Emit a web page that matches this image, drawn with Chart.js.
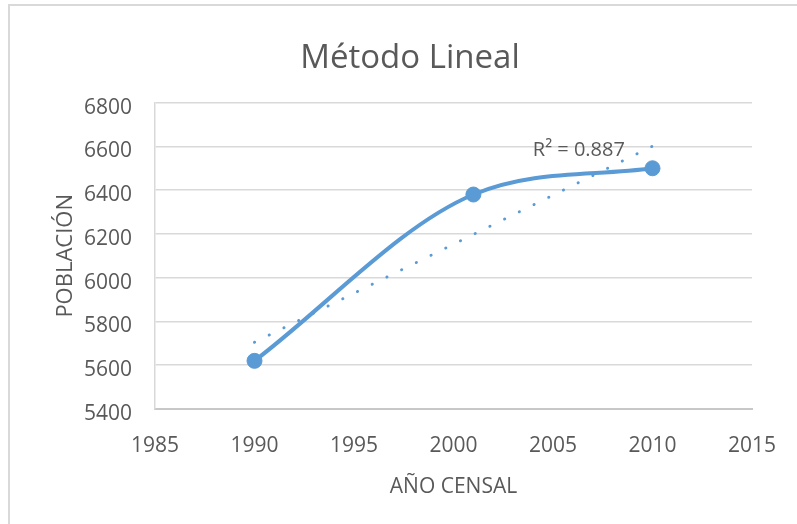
<!DOCTYPE html>
<html>
<head>
<meta charset="utf-8">
<script src="https://cdn.jsdelivr.net/npm/chart.js@4/dist/chart.umd.min.js"></script>
<style>
  html, body { margin: 0; padding: 0; background: #ffffff; }
  #wrap { width: 797px; height: 524px; }
</style>
</head>
<body>
<div id="wrap"><canvas id="c" width="797" height="524"></canvas></div>
<script>
// ---- data ----
const years = [1990, 2001, 2010];
const population = [5620, 6380, 6500];
const trendYears = [1990, 2010];
const trendValues = [5705, 6601];
const trendLabel = 'R² = 0.887';
const trendLabelAt = [2006.3, 6582];
const chartTitle = 'Método Lineal';
const xTitle = 'AÑO CENSAL';
const yTitle = 'POBLACIÓN';
const xMin = 1985, xMax = 2015, xStep = 5;
const yMin = 5400, yMax = 6800, yStep = 200;

const FONT = "'Open Sans', 'Liberation Sans', sans-serif";
const TEXT = '#595959';
const BLUE = '#5b9bd5';

const frameAndLabels = {
  id: 'frameAndLabels',
  beforeDraw(chart) {
    const ctx = chart.ctx;
    ctx.save();
    ctx.fillStyle = '#ffffff';
    ctx.fillRect(0, 0, chart.width, chart.height);
    ctx.strokeStyle = '#d9d9d9';
    ctx.lineWidth = 2;
    ctx.strokeRect(9, 5, chart.width + 20, chart.height + 20);
    ctx.restore();
  },
  afterDatasetsDraw(chart) {
    const ctx = chart.ctx;
    const xs = chart.scales.x, ys = chart.scales.y;
    ctx.save();
    ctx.fillStyle = TEXT;
    ctx.font = '20px ' + FONT;
    ctx.textAlign = 'center';
    ctx.textBaseline = 'middle';
    ctx.fillText(trendLabel, xs.getPixelForValue(trendLabelAt[0]), ys.getPixelForValue(trendLabelAt[1]));
    ctx.restore();
  }
};

new Chart(document.getElementById('c'), {
  type: 'line',
  data: {
    datasets: [
      {
        label: 'Población',
        data: years.map((y, i) => ({ x: y, y: population[i] })),
        borderColor: BLUE,
        backgroundColor: BLUE,
        borderWidth: 4,
        pointRadius: 7.5,
        pointBackgroundColor: BLUE,
        pointBorderColor: BLUE,
        pointBorderWidth: 1,
        cubicInterpolationMode: 'monotone',
        tension: 0.4,
        fill: false
      },
      {
        label: 'Lineal',
        data: trendYears.map((y, i) => ({ x: y, y: trendValues[i] })),
        borderColor: BLUE,
        borderWidth: 3,
        borderDash: [0.1, 16.3],
        borderCapStyle: 'round',
        pointRadius: 0,
        tension: 0,
        fill: false
      }
    ]
  },
  options: {
    responsive: false,
    animation: false,
    layout: { padding: { left: 23, right: 0, top: 0, bottom: 0 } },
    plugins: {
      legend: { display: false },
      tooltip: { enabled: false },
      title: {
        display: true,
        text: chartTitle,
        color: TEXT,
        font: { family: FONT, size: 33, weight: 'normal' },
        padding: { top: 39, bottom: 24 }
      }
    },
    scales: {
      x: {
        type: 'linear',
        min: xMin, max: xMax,
        afterBuildTicks(scale) {
          const t = [];
          for (let v = xMin; v <= xMax; v += xStep) t.push({ value: v });
          scale.ticks = t;
        },
        ticks: {
          color: TEXT,
          font: { family: FONT, size: 21 },
          padding: 24,
          maxRotation: 0,
          callback: v => String(v)
        },
        grid: { display: false, drawTicks: false },
        border: { display: true, color: '#c8c8c8', width: 2 },
        title: {
          display: true,
          text: xTitle,
          color: TEXT,
          font: { family: FONT, size: 21 },
          padding: { top: 0, bottom: 24 }
        },
        afterFit(scale) {
          scale.height = 115;
          scale.paddingRight = 45;
        }
      },
      y: {
        min: yMin, max: yMax,
        afterBuildTicks(scale) {
          const t = [];
          for (let v = yMin; v <= yMax; v += yStep) t.push({ value: v });
          scale.ticks = t;
        },
        ticks: {
          color: TEXT,
          font: { family: FONT, size: 21 },
          padding: 23,
          labelOffset: 5,
          callback: v => String(v)
        },
        grid: { color: '#d9d9d9', lineWidth: 1.5, drawTicks: false },
        border: { display: true, color: '#d9d9d9', width: 1.5 },
        title: {
          display: true,
          text: yTitle,
          color: TEXT,
          font: { family: FONT, size: 22 },
          padding: { top: 30, bottom: 0 }
        },
        afterFit(scale) {
          scale.width = 132;
        }
      }
    }
  },
  plugins: [frameAndLabels]
});
</script>
</body>
</html>
